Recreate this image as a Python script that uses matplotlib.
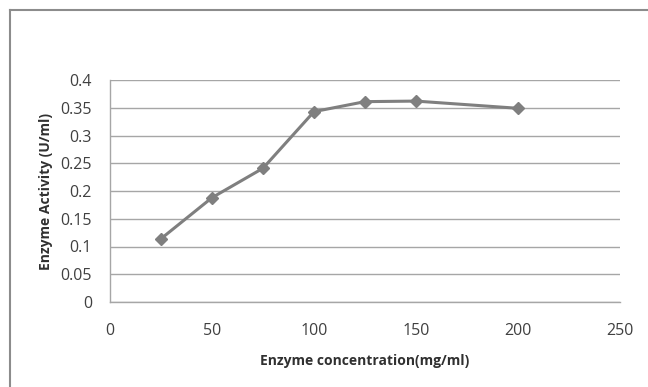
import matplotlib.pyplot as plt
from matplotlib.lines import Line2D

# Data
conc = [25, 50, 75, 100, 125, 150, 200]
activity = [0.114, 0.188, 0.241, 0.343, 0.361, 0.362, 0.349]
xticks = [0, 50, 100, 150, 200, 250]
yticks = [0, 0.05, 0.1, 0.15, 0.2, 0.25, 0.3, 0.35, 0.4]
ytick_labels = ['0', '0.05', '0.1', '0.15', '0.2', '0.25', '0.3', '0.35', '0.4']

plt.rcParams['font.family'] = ['Open Sans', 'DejaVu Sans']

fig = plt.figure(figsize=(6.48, 3.87), dpi=100)
ax = fig.add_axes([110/648, 1 - 302/387, 510/648, 222/387])

grid_col = '#a6a6a6'
ax.set_axisbelow(True)
ax.grid(axis='y', color=grid_col, linewidth=1)
ax.plot(conc, activity, color='#7f7f7f', linewidth=2.2, marker='D',
        markersize=6.5, markerfacecolor='#7f7f7f', markeredgecolor='#7f7f7f')

ax.set_xlim(0, 250)
ax.set_ylim(0, 0.4)
ax.set_xticks(xticks)
ax.set_yticks(yticks)
ax.set_yticklabels(ytick_labels)
ax.tick_params(length=0, labelsize=11.5, colors='#404040')
ax.tick_params(axis='x', pad=15)
ax.tick_params(axis='y', pad=13)

for s in ['top', 'right']:
    ax.spines[s].set_visible(False)
for s in ['left', 'bottom']:
    ax.spines[s].set_color(grid_col)
    ax.spines[s].set_linewidth(1)

ax.set_xlabel('Enzyme concentration(mg/ml)', fontsize=10, fontweight='bold',
              color='#303030', labelpad=11)
ax.set_ylabel('Enzyme Activity (U/ml)', fontsize=10, fontweight='bold',
              color='#303030', labelpad=5)

# outer chart border (open on the right and bottom edges of the image)
bx, by = 9.5/648, 1 - 9.5/387
fig.add_artist(Line2D([bx, bx], [0, by], color='#8c8c8c', linewidth=1.5,
                      transform=fig.transFigure))
fig.add_artist(Line2D([bx, 1], [by, by], color='#8c8c8c', linewidth=1.5,
                      transform=fig.transFigure))

fig.savefig('out.png', dpi=100)
